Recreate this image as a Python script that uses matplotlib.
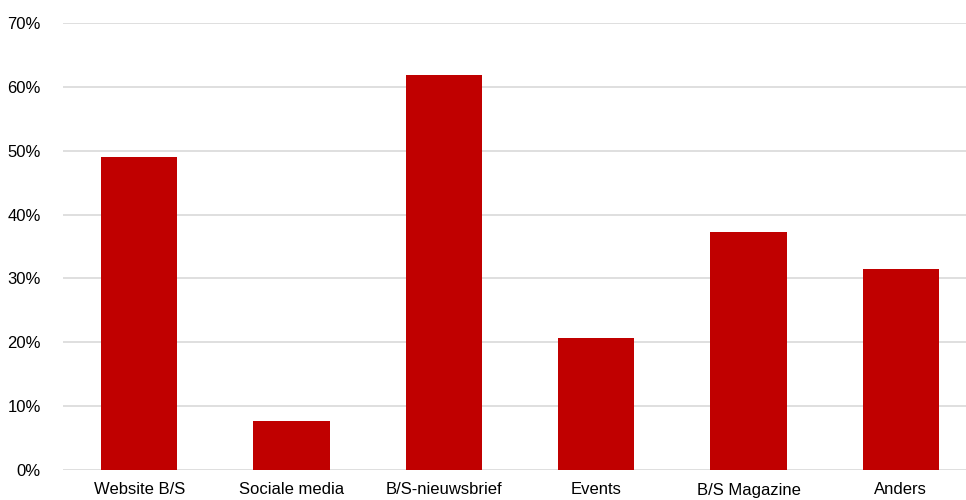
import matplotlib
matplotlib.use("Agg")
import matplotlib.pyplot as plt
from matplotlib.ticker import PercentFormatter

# Waarden
categories = ["Website B/S", "Sociale media", "B/S-nieuwsbrief", "Events", "B/S Magazine", "Anders"]
values = [49.0, 7.6, 61.8, 20.7, 37.3, 31.5]

plt.rcParams['font.family'] = ['Liberation Sans', 'DejaVu Sans']

fig = plt.figure(figsize=(9.66, 5.0), dpi=100)
# de rechterkant van de as valt buiten het beeld, net als in het origineel
ax = fig.add_axes([63 / 966, 30 / 500, 914 / 966, 447 / 500])

ax.bar(range(len(categories)), values, width=0.5, color="#C00000", zorder=3)

ax.set_xlim(-0.5, len(categories) - 0.5)
ax.set_ylim(0, 70)
ax.set_yticks(range(0, 71, 10))
ax.yaxis.set_major_formatter(PercentFormatter(decimals=0))
ax.set_xticks(range(len(categories)))
ax.set_xticklabels(categories)

ax.grid(axis="y", color="#D9D9D9", linewidth=1.2, zorder=0)
for s in ax.spines.values():
    s.set_visible(False)
ax.tick_params(length=0, labelsize=12, colors="#000000")
ax.tick_params(axis="y", pad=16)
ax.tick_params(axis="x", pad=9)

fig.savefig("out.png", dpi=100)
